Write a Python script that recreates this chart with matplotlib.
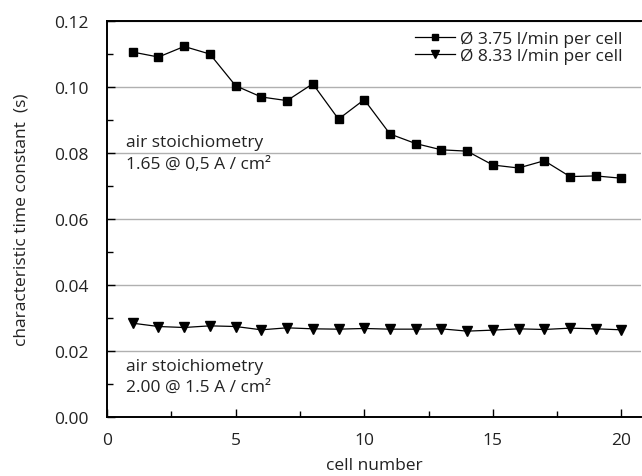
import numpy as np
import matplotlib
matplotlib.use('Agg')
import matplotlib.pyplot as plt
from matplotlib.ticker import MultipleLocator

# Datos
cells = list(range(1, 21))
tau_375 = [0.1105, 0.1090, 0.1122, 0.1099, 0.1003, 0.0969, 0.0958, 0.1009, 0.0902, 0.0961,
           0.0857, 0.0828, 0.0809, 0.0805, 0.0763, 0.0754, 0.0776, 0.0728, 0.0730, 0.0723]
tau_833 = [0.0284, 0.0274, 0.0271, 0.0276, 0.0274, 0.0264, 0.0270, 0.0267, 0.0266, 0.0268,
           0.0266, 0.0266, 0.0267, 0.0260, 0.0263, 0.0267, 0.0265, 0.0269, 0.0267, 0.0264]
labels = ['Ø 3.75 l/min per cell', 'Ø 8.33 l/min per cell']

plt.rcParams['font.family'] = ['Open Sans', 'DejaVu Sans']
txt = '#222222'
fs = 12.5

fig = plt.figure(figsize=(6.42, 4.77), dpi=100)
ax = fig.add_axes([0.1667, 0.1237, 0.8313, 0.8308])

# Series
ax.plot(cells, tau_375, color='black', lw=0.9, marker='s', markersize=6, label=labels[0])
ax.plot(cells, tau_833, color='black', lw=0.9, marker='v', markersize=7, label=labels[1])

# Ejes
ax.set_xlim(0, 20.75)
ax.set_ylim(0, 0.12)
ax.xaxis.set_major_locator(MultipleLocator(5))
ax.xaxis.set_minor_locator(MultipleLocator(2.5))
ax.yaxis.set_major_locator(MultipleLocator(0.02))
ax.yaxis.set_minor_locator(MultipleLocator(0.01))
ax.yaxis.set_major_formatter(matplotlib.ticker.FormatStrFormatter('%.2f'))
ax.grid(axis='y', which='major', color='#b0b0b0', lw=1.0)
ax.set_axisbelow(True)

ax.tick_params(axis='both', which='major', direction='in', length=6, width=1, labelsize=fs,
               labelcolor=txt)
ax.tick_params(axis='both', which='minor', direction='in', length=4, width=1)
ax.tick_params(axis='y', which='major', pad=13)
ax.tick_params(axis='x', which='major', pad=11)

ax.spines['right'].set_visible(False)
for s in ['left', 'bottom', 'top']:
    ax.spines[s].set_linewidth(1.4)

ax.set_xlabel('cell number', fontsize=fs, color=txt, labelpad=6)
ax.set_ylabel('characteristic time constant  (s)', fontsize=fs, color=txt, labelpad=18)

# Anotaciones
ax.text(0.75, 0.0800, 'air stoichiometry\n1.65 @ 0,5 A / cm²', fontsize=fs, color=txt,
        va='center', ha='left', linespacing=1.45)
ax.text(0.75, 0.0123, 'air stoichiometry\n2.00 @ 1.5 A / cm²', fontsize=fs, color=txt,
        va='center', ha='left', linespacing=1.45)

ax.legend(loc='upper right', frameon=False, fontsize=fs, handlelength=2.3,
          labelspacing=0.0, handletextpad=0.25, borderaxespad=0.2, markerscale=0.8,
          bbox_to_anchor=(0.985, 1.0), labelcolor=txt)

fig.savefig('out.png', dpi=100)
